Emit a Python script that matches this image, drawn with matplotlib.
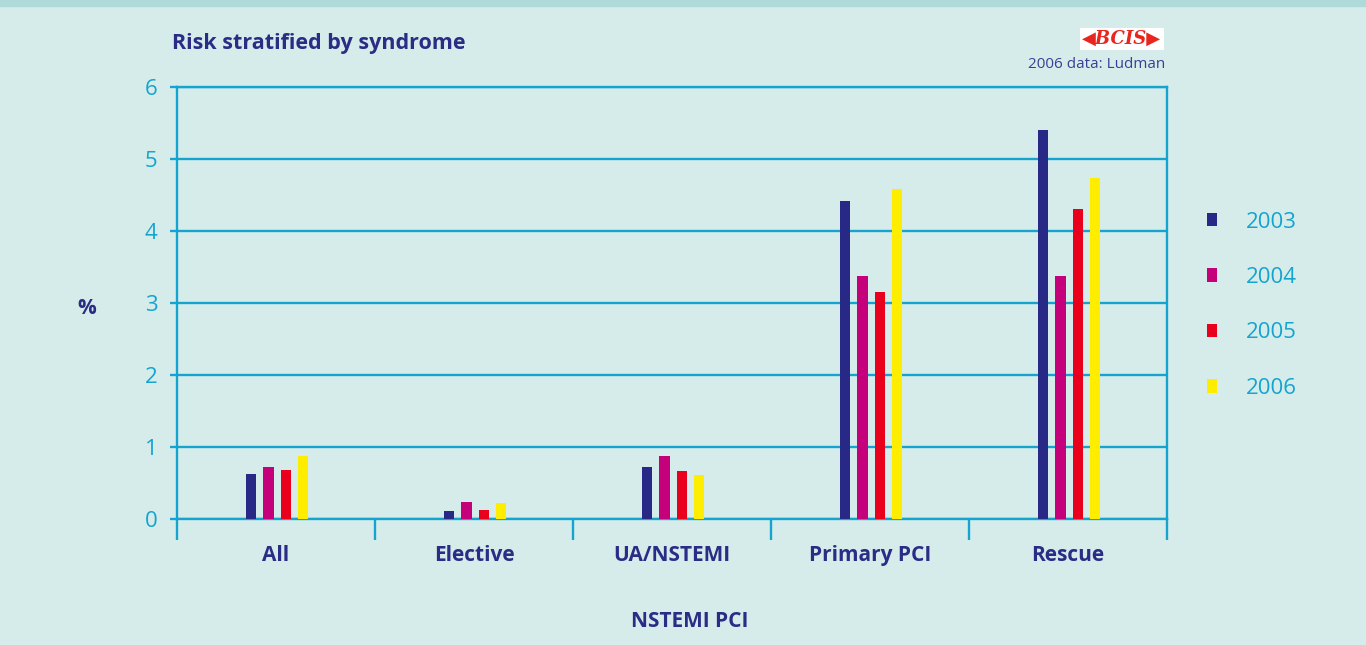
import numpy as np
import matplotlib.pyplot as plt
from matplotlib.patches import Patch, Rectangle

plt.rcParams['font.family'] = ['Open Sans', 'DejaVu Sans']

# Mortality by syndrome, per year
categories = ['All', 'Elective', 'UA/NSTEMI', 'Primary PCI', 'Rescue']
years = ['2003', '2004', '2005', '2006']
y2003 = [0.63, 0.11, 0.72, 4.41, 5.40]
y2004 = [0.72, 0.24, 0.87, 3.37, 3.38]
y2005 = [0.68, 0.13, 0.67, 3.16, 4.31]
y2006 = [0.88, 0.22, 0.61, 4.58, 4.74]
series = [y2003, y2004, y2005, y2006]
colors = ['#282887', '#C4007A', '#E8001C', '#FFED00']

bg = '#D6ECEA'
line_c = '#14A4CF'
navy = '#2A2C86'

fig = plt.figure(figsize=(13.66, 6.45), dpi=100, facecolor=bg)
ax = fig.add_axes([0.1296, 0.1953, 0.7247, 0.6698])
ax.set_facecolor(bg)

# top band
fig.patches.append(Rectangle((0, 0.991), 1, 0.009, transform=fig.transFigure,
                             color='#AEDBDA', zorder=0))

x = np.arange(len(categories))
offsets = [-0.125, -0.038, 0.052, 0.137]
for vals, off, c, yr in zip(series, offsets, colors, years):
    ax.bar(x + off, vals, width=0.052, color=c, label=yr, zorder=3)

ax.set_xlim(-0.5, len(categories) - 0.5)
ax.set_ylim(0, 6)
ax.set_yticks(range(7))
ax.yaxis.grid(True, color=line_c, linewidth=1.7, zorder=1)
ax.tick_params(axis='y', length=5, width=1.7, color=line_c, labelcolor=line_c,
               labelsize=16, pad=9)

# category separators as x ticks
ax.set_xticks(np.arange(-0.5, len(categories), 1.0), minor=False)
ax.set_xticklabels([])
ax.tick_params(axis='x', length=15, width=1.7, color=line_c)
for xi, name in zip(x, categories):
    ax.text(xi, -0.5, name, ha='center', va='center', fontsize=15,
            fontweight='bold', color=navy)

for side in ['left', 'right', 'bottom', 'top']:
    ax.spines[side].set_color(line_c)
    ax.spines[side].set_linewidth(1.7)

fig.text(0.126, 0.932, 'Risk stratified by syndrome', fontsize=15.5,
         fontweight='bold', color=navy, va='center')
fig.text(0.0636, 0.522, '%', fontsize=15, fontweight='bold', color=navy,
         ha='center', va='center')
fig.text(0.505, 0.037, 'NSTEMI PCI', fontsize=15, fontweight='bold',
         color=navy, ha='center', va='center')
fig.text(0.853, 0.900, '2006 data: Ludman', fontsize=11, color='#3A3F95',
         ha='right', va='center')

# logo
fig.text(0.8213, 0.940, '\u25C0BCIS\u25B6', fontsize=13, color='#E8261E',
         fontweight='bold', fontstyle='italic', family='DejaVu Serif',
         ha='center', va='center',
         bbox=dict(boxstyle='square,pad=0.12', facecolor='white',
                   edgecolor='none'))

handles = [Patch(facecolor=c, edgecolor='none') for c in colors]
leg = fig.legend(handles, years, loc='upper left',
                 bbox_to_anchor=(0.869, 0.703), frameon=False, fontsize=16,
                 handlelength=0.45, handleheight=0.55, handletextpad=1.3,
                 labelspacing=1.55)
for t in leg.get_texts():
    t.set_color(line_c)

fig.savefig('out.png', dpi=100, facecolor=bg)
